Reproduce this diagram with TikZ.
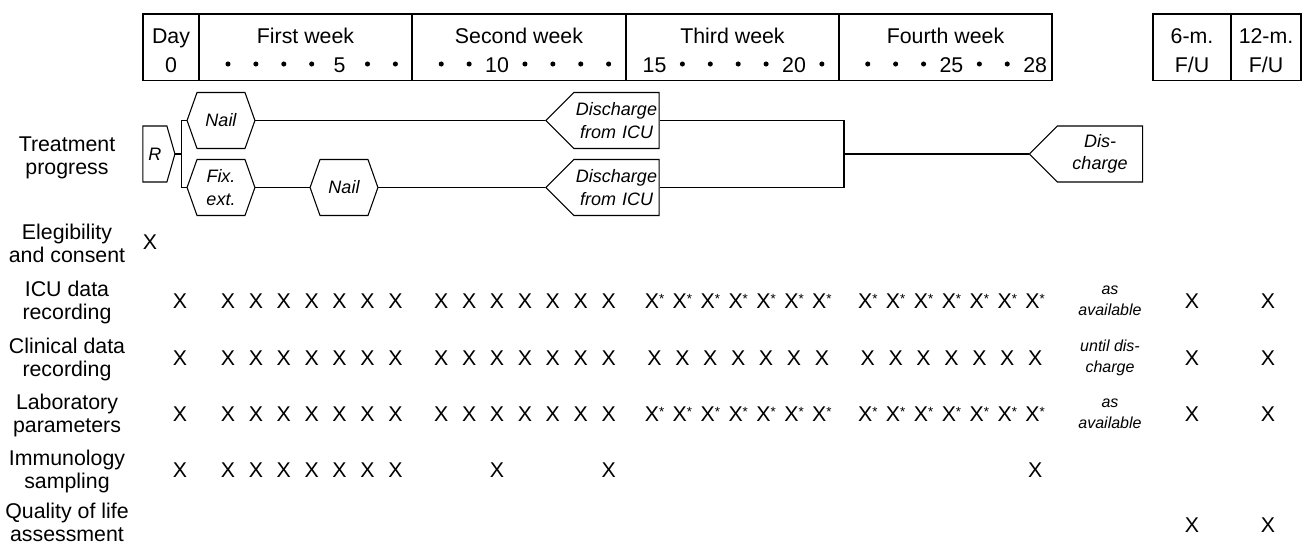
\documentclass[tikz,border=0pt]{standalone}
\usepackage{fontspec}
\setmainfont{Liberation Sans}
\usetikzlibrary{shapes.symbols}
\def\xstar{X\raisebox{3.5pt}{\fontsize{10}{10}\selectfont *}}
\tikzset{
	declare function={dayx(\d)=199+int((\d-1)/7)*213.25+29+mod(\d-1,7)*27.9;},
	hdr/.style={font=\fontsize{16}{19}\selectfont, anchor=base, inner sep=0pt},
	lbl/.style={font=\fontsize{16}{17.25}\selectfont, align=center, inner sep=0pt},
	xmark/.style={font=\fontsize{16}{19}\selectfont, inner sep=0pt},
	note/.style={font=\itshape\fontsize{12}{16}\selectfont, align=center, inner sep=0pt},
	stage/.style={draw, line width=0.8pt, shape=signal, minimum height=42pt, inner xsep=0pt, inner ysep=0pt, font=\itshape\fontsize{13.5}{17}\selectfont, align=center},
	hexa/.style={stage, signal to=west and east, signal pointer angle=141, text width=36pt},
	outbox/.style={stage, signal to=west, signal pointer angle=90, text width=64pt},
}
\begin{document}
\begin{tikzpicture}[x=0.75pt, y=-0.75pt, line width=0.8pt]
		%%%%% START %%%%%
		\useasboundingbox (0,0) rectangle (1302,547);
		
		% header
		\draw (143,14) rectangle (1052,80.7);
		\foreach \xx in {199,412,626,839} \draw (\xx,14) -- (\xx,80.7);
		\draw (1153,14) rectangle (1301,80.7);
		\draw (1231,14) -- (1231,80.7);
		
		\node[hdr] (day) at (171,43.3) {Day};
		\node[hdr] (day0) at (171,72) {0};
		\node[hdr] (wk1) at (305.5,43.3) {First week};
		\node[hdr] (wk2) at (519,43.3) {Second week};
		\node[hdr] (wk3) at (732.5,43.3) {Third week};
		\node[hdr] (wk4) at (945.5,43.3) {Fourth week};
		\node[hdr] (fu6) at (1192,43.3) {6-m.};
		\node[hdr] (fu6b) at (1192,72) {F/U};
		\node[hdr] (fu12) at (1266,43.3) {12-m.};
		\node[hdr] (fu12b) at (1266,72) {F/U};
		
		\foreach \d in {1,2,3,4,6,7,8,9,11,12,13,14,16,17,18,19,21,22,23,24,26,27}
			\fill ({dayx(\d)},64) circle (1.9pt);
		\foreach \d in {5,10,15,20,25,28}
			\node[hdr] (num\d) at ({dayx(\d)},72) {\d};
		
		% treatment progress
		\node[stage, signal to=east, signal pointer angle=148, text width=18pt] (rnd) at (154.9,154) {R};
		\node[hexa] (nailA) at (221,120.5) {Nail};
		\node[hexa] (fixA) at (221,187.5) {Fix.\\ext.};
		\node[hexa] (nailB) at (344,187.5) {Nail};
		\node[outbox] (icuA) at (616.5,120.5) {Discharge\\from ICU};
		\node[outbox] (icuB) at (616.5,187.5) {Discharge\\from ICU};
		\node[outbox] (dis) at (1100,154) {Dis-\\charge};
		
		\coordinate (brk) at (181.7,154);
		\coordinate (join) at (844,154);
		\draw (rnd.east) -- (brk);
		\draw (nailA.west) -| (brk) |- (fixA.west);
		\draw (nailA.east) -- (icuA.west);
		\draw (fixA.east) -- (nailB.west);
		\draw (nailB.east) -- (icuB.west);
		\draw (icuA.east) -| (join) |- (icuB.east);
		\draw[line width=1.5pt] (join) -- (dis.west);
		
		% row labels
		\node[lbl] (ltreat) at (67,158) {Treatment\\progress};
		\node[lbl] (lelig) at (67,243) {Elegibility\\and consent};
		\node[lbl] (licu) at (67,302) {ICU data\\recording};
		\node[lbl] (lclin) at (67,359) {Clinical data\\recording};
		\node[lbl] (llab) at (67,415) {Laboratory\\parameters};
		\node[lbl] (limm) at (67,471) {Immunology\\sampling};
		\node[lbl] (lqol) at (67,522) {Quality of life\\assessment};
		
		\node[xmark] (xelig) at (150,242) {X};
		
		% ICU data
		\node[xmark] (icu0) at (180,301) {X};
		\foreach \d in {1,...,14} \node[xmark] (icu\d) at ({dayx(\d)},301) {X};
		\foreach \d in {15,...,28} \node[xmark] (icu\d) at ({dayx(\d)},301) {\xstar};
		\node[note] (icun) at (1110,301) {as\\available};
		\node[xmark] (icu6m) at (1192,301) {X};
		\node[xmark] (icu12m) at (1268,301) {X};
		
		% clinical data
		\node[xmark] (cli0) at (180,358) {X};
		\foreach \d in {1,...,28} \node[xmark] (cli\d) at ({dayx(\d)},358) {X};
		\node[note] (clin) at (1110,358) {until dis-\\charge};
		\node[xmark] (cli6m) at (1192,358) {X};
		\node[xmark] (cli12m) at (1268,358) {X};
		
		% laboratory
		\node[xmark] (lab0) at (180,414) {X};
		\foreach \d in {1,...,14} \node[xmark] (lab\d) at ({dayx(\d)},414) {X};
		\foreach \d in {15,...,28} \node[xmark] (lab\d) at ({dayx(\d)},414) {\xstar};
		\node[note] (labn) at (1110,414) {as\\available};
		\node[xmark] (lab6m) at (1192,414) {X};
		\node[xmark] (lab12m) at (1268,414) {X};
		
		% immunology
		\node[xmark] (imm0) at (180,470) {X};
		\foreach \d in {1,...,7,10,14,28} \node[xmark] (imm\d) at ({dayx(\d)},470) {X};
		
		% quality of life
		\node[xmark] (qol6m) at (1192,525) {X};
		\node[xmark] (qol12m) at (1268,525) {X};
		
		%%%%% END %%%%%
\end{tikzpicture}
\end{document}
